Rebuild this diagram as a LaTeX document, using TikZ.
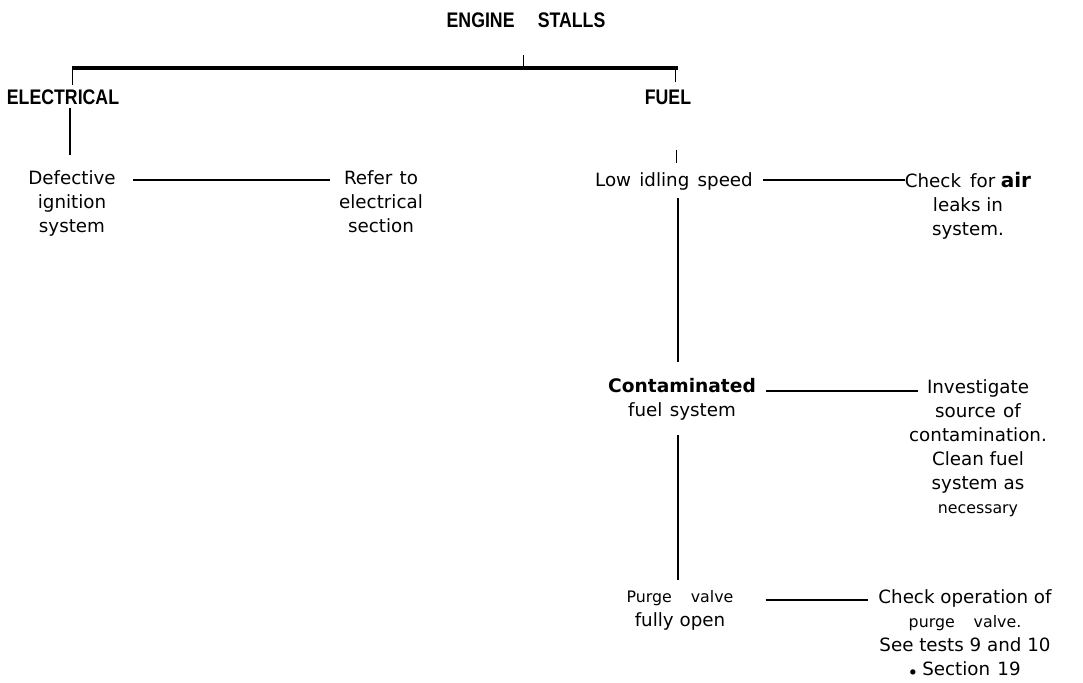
\documentclass[tikz,border=0pt]{standalone}
\usepackage{fontspec}
\setmainfont{DejaVu Sans}
\newfontfamily\headfont[FakeStretch=0.84]{Liberation Sans}
\usetikzlibrary{positioning}

\begin{document}
\begin{tikzpicture}[x=0.02cm, y=-0.02cm,
	every node/.style={font=\fontsize{10.4}{13.7}\selectfont, align=center, inner sep=0pt},
	head/.style={font=\headfont\bfseries\fontsize{12}{14}\selectfont},
	bar/.style={line width=2.1pt},
	link/.style={line width=1.4pt},
	stem/.style={line width=1.7pt},
	tick/.style={line width=0.4pt}]
	\useasboundingbox (0,0) rectangle (1083,683);
	% top of the tree
	\node[head] (root) at (526,20) {ENGINE\hspace{1.1em}STALLS};
	\node[head] (elec) at (63,97) {ELECTRICAL};
	\node[head] (fuel) at (668,97) {FUEL};
	\coordinate (barL) at (72,68);
	\coordinate (barR) at (678,68);
	\draw[bar] (barL) -- (barR);
	\draw[tick] (523,55) -- (523,68);
	\draw[tick] (barL) -- (72,85);
	\draw[tick] (675,68) -- (675,82);
	% electrical branch
	\node[anchor=north] (ignition) at (72,170) {Defective\\ignition\\system};
	\node[anchor=north] (referel) at (381,170) {Refer\hspace{0.4em}to\\electrical\\section};
	\draw[line width=1pt] (70,108) -- (70,155);
	\path ([shift={(17,10)}]ignition.north east) coordinate (l1);
	\draw[link] (l1) -- ([xshift=-5pt]l1 -| referel.west);
	% fuel branch
	\node[anchor=north] (idle) at (674,172) {Low\hspace{0.45em}idling\hspace{0.45em}speed};
	\node[anchor=north] (airleak) at (968,172) {Check\hspace{0.5em}for\hspace{0.3em}{\bfseries\fontsize{11.4}{13.7}\selectfont air}\\leaks in\\system.};
	\node[anchor=north] (dirty) at (682,378) {{\bfseries\fontsize{10.6}{13.7}\selectfont Contaminated}\\fuel\hspace{0.4em}system};
	\node[anchor=north] (source) at (978,379) {Investigate\\source\hspace{0.4em}of\\contamination.\\Clean fuel\\system as\\{\fontsize{9}{13.7}\selectfont necessary}};
	\node[anchor=north] (purge) at (680,590) {{\fontsize{9}{13.7}\selectfont Purge\hspace{1.2em}valve}\\fully open};
	\node[anchor=north] (purgechk) at (965,589) {Check operation of\\{\fontsize{9}{13.7}\selectfont purge\hspace{1.2em}valve.}\\See tests 9 and 10\\$\scriptstyle\bullet$ Section\hspace{0.4em}19};
	\draw[tick] (676,150) -- (676,163);
	\draw[stem] (678,198) -- (678,362);
	\draw[stem] (678,435) -- (678,580);
	\path ([shift={(10,8)}]idle.north east) coordinate (l2);
	\draw[link] (l2) -- (l2 -| airleak.west);
	\path ([shift={(10,13)}]dirty.north east) coordinate (l3);
	\draw[link] (l3) -- ([xshift=5pt]l3 -| source.west);
	\path ([shift={(32,10)}]purge.north east) coordinate (l4);
	\draw[link] (l4) -- ([xshift=-6pt]l4 -| purgechk.west);
\end{tikzpicture}
\end{document}
